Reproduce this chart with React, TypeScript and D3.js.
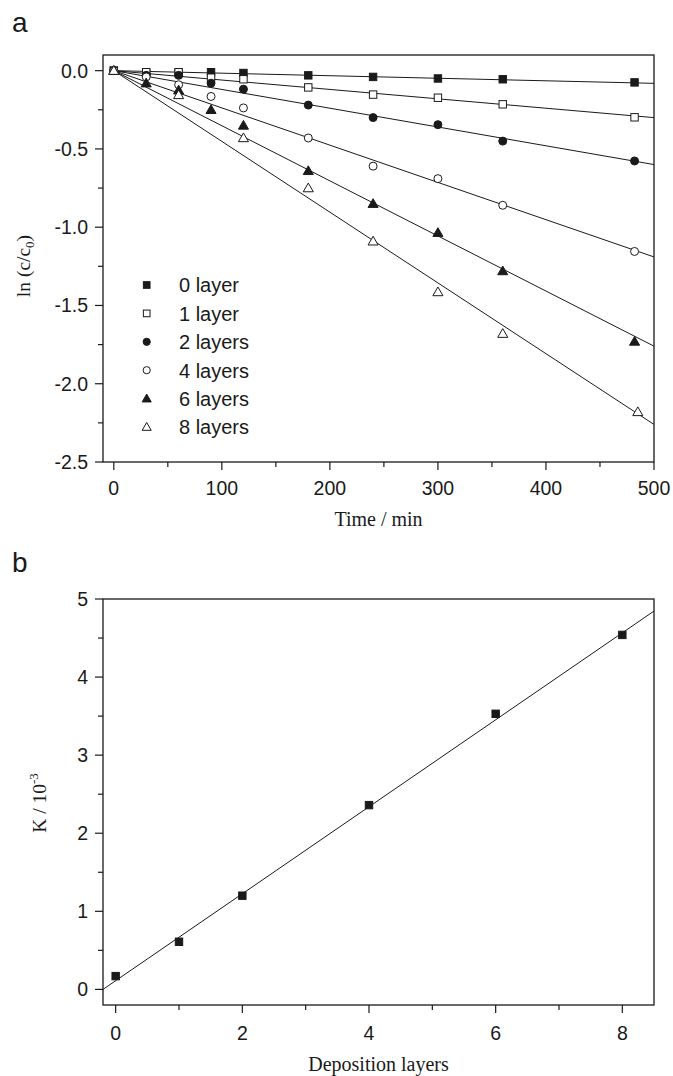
import React from 'react';
import * as d3 from 'd3';

// ---------- data: panel a ----------
const times = [0, 30, 60, 90, 120, 180, 240, 300, 360, 482];
const layer0 = [0, -0.015, -0.015, -0.01, -0.015, -0.03, -0.04, -0.05, -0.055, -0.075];
const layer1 = [0, -0.01, -0.01, -0.045, -0.055, -0.107, -0.153, -0.173, -0.215, -0.298];
const layer2 = [0, -0.03, -0.03, -0.08, -0.118, -0.22, -0.30, -0.345, -0.45, -0.577];
const layer4 = [0, -0.04, -0.09, -0.165, -0.238, -0.43, -0.61, -0.69, -0.86, -1.155];
const layer6 = [0, -0.08, -0.125, -0.25, -0.35, -0.64, -0.85, -1.035, -1.28, -1.73];
const layer8 = [0, null, -0.155, null, -0.43, -0.75, -1.09, -1.414, -1.68, -2.18];
const seriesNames = ['0 layer', '1 layer', '2 layers', '4 layers', '6 layers', '8 layers'];
const seriesMarkers = ['sqF', 'sqO', 'ciF', 'ciO', 'trF', 'trO'];
const fitAt500 = [-0.081, -0.30, -0.60, -1.19, -1.76, -2.26];
const xTicksA = [0, 100, 200, 300, 400, 500];
const yTicksA = [0, -0.5, -1.0, -1.5, -2.0, -2.5];

// ---------- data: panel b ----------
const depLayers = [0, 1, 2, 4, 6, 8];
const kValues = [0.17, 0.61, 1.2, 2.36, 3.53, 4.54];
const kFitIntercept = 0.111;
const kFitSlope = 0.557;
const xTicksB = [0, 2, 4, 6, 8];
const yTicksB = [0, 1, 2, 3, 4, 5];

const allSeries = [layer0, layer1, layer2, layer4, layer6, layer8];

const SANS = '"Liberation Sans", Arial, sans-serif';
const SERIF = '"Liberation Serif", "Times New Roman", serif';
const INK = '#1a1a1a';

function Marker({ type, x, y, s = 1 }: { type: string; x: number; y: number; s?: number }) {
  const filled = type.endsWith('F');
  const fill = filled ? INK : '#fff';
  const common = { fill, stroke: INK, strokeWidth: 1 };
  if (type.startsWith('sq')) {
    const h = 3.7 * s;
    return <rect x={x - h} y={y - h} width={2 * h} height={2 * h} {...common} />;
  }
  if (type.startsWith('ci')) {
    return <circle cx={x} cy={y} r={4 * s} {...common} />;
  }
  const path = d3.symbol(d3.symbolTriangle, 44 * s * s)();
  return <path d={path || ''} transform={`translate(${x},${y + 0.8 * s})`} {...common} />;
}

export default function App() {
  // panel a geometry
  const aL = 103, aR = 654, aT = 55, aB = 462;
  const xA = d3.scaleLinear().domain([-10, 500]).range([aL, aR]);
  const yA = d3.scaleLinear().domain([-2.5, 0.1]).range([aB, aT]);
  // panel b geometry
  const bL = 103, bR = 654, bT = 599, bB = 1005;
  const xB = d3.scaleLinear().domain([-0.2, 8.5]).range([bL, bR]);
  const yB = d3.scaleLinear().domain([-0.2, 5]).range([bB, bT]);

  const xMinorA = d3.range(50, 500, 100);
  const yMinorA = d3.range(-0.25, -2.5, -0.5);
  const xMinorB = [1, 3, 5, 7];
  const yMinorB = d3.range(0.5, 5, 1);

  const line = d3.line<[number, number]>();

  return (
    <svg width={673} height={1076} style={{ position: 'absolute', left: 0, top: 0, background: '#fff' }}>
      <rect x={0} y={0} width={673} height={1076} fill="#fff" />
      {/* ===== Panel a ===== */}
      <text x={12} y={32} fontFamily={SANS} fontSize={28} fill={INK}>a</text>
      <rect x={aL} y={aT} width={aR - aL} height={aB - aT} fill="none" stroke={INK} strokeWidth={1.3} />
      {xTicksA.map(t => (
        <g key={'xa' + t}>
          <line x1={xA(t)} x2={xA(t)} y1={aB} y2={aB + 8} stroke={INK} strokeWidth={1.2} />
          <text x={xA(t)} y={aB + 33} textAnchor="middle" fontFamily={SANS} fontSize={19.5} fill={INK}>{t}</text>
        </g>
      ))}
      {xMinorA.map(t => (
        <line key={'xam' + t} x1={xA(t)} x2={xA(t)} y1={aB} y2={aB + 5} stroke={INK} strokeWidth={1.2} />
      ))}
      {yTicksA.map(v => (
        <g key={'ya' + v}>
          <line x1={aL - 8} x2={aL} y1={yA(v)} y2={yA(v)} stroke={INK} strokeWidth={1.2} />
          <text x={aL - 15} y={yA(v) + 7} textAnchor="end" fontFamily={SANS} fontSize={19.5} fill={INK}>{v.toFixed(1)}</text>
        </g>
      ))}
      {yMinorA.map(v => (
        <line key={'yam' + v} x1={aL - 5} x2={aL} y1={yA(v)} y2={yA(v)} stroke={INK} strokeWidth={1.2} />
      ))}
      {/* fit lines */}
      {fitAt500.map((e, i) => (
        <path key={'fa' + i} d={line([[xA(0), yA(0)], [xA(500), yA(e)]]) || ''} stroke={INK} strokeWidth={1} fill="none" />
      ))}
      {/* data points */}
      {allSeries.map((vals, i) =>
        vals.map((v, j) =>
          v === null ? null : (
            <Marker key={'p' + i + '-' + j} type={seriesMarkers[i]} x={xA(i === 5 && j === 9 ? 485 : times[j])} y={yA(v)} />
          )
        )
      )}
      {/* legend */}
      {seriesNames.map((n, i) => {
        const ly = 285 + i * 28.4;
        return (
          <g key={'lg' + i}>
            <Marker type={seriesMarkers[i]} x={146.7} y={ly} s={0.9} />
            <text x={179} y={ly + 7.3} fontFamily={SANS} fontSize={20} fill={INK}>{n}</text>
          </g>
        );
      })}
      <text transform={`translate(30,${266}) rotate(-90)`} textAnchor="middle" fontFamily={SERIF} fontSize={19.5} fill={INK}>
        ln (c/c<tspan fontSize={13} dy={4}>0</tspan><tspan dy={-4}>)</tspan>
      </text>
      <text x={(aL + aR) / 2} y={526} textAnchor="middle" fontFamily={SERIF} fontSize={20} fill={INK}>Time / min</text>

      {/* ===== Panel b ===== */}
      <text x={12} y={572} fontFamily={SANS} fontSize={28} fill={INK}>b</text>
      <rect x={bL} y={bT} width={bR - bL} height={bB - bT} fill="none" stroke={INK} strokeWidth={1.3} />
      {xTicksB.map(t => (
        <g key={'xb' + t}>
          <line x1={xB(t)} x2={xB(t)} y1={bB} y2={bB + 8} stroke={INK} strokeWidth={1.2} />
          <text x={xB(t)} y={bB + 35} textAnchor="middle" fontFamily={SANS} fontSize={19.5} fill={INK}>{t}</text>
        </g>
      ))}
      {xMinorB.map(t => (
        <line key={'xbm' + t} x1={xB(t)} x2={xB(t)} y1={bB} y2={bB + 5} stroke={INK} strokeWidth={1.2} />
      ))}
      {yTicksB.map(v => (
        <g key={'yb' + v}>
          <line x1={bL - 8} x2={bL} y1={yB(v)} y2={yB(v)} stroke={INK} strokeWidth={1.2} />
          <text x={bL - 15} y={yB(v) + 7} textAnchor="end" fontFamily={SANS} fontSize={19.5} fill={INK}>{v}</text>
        </g>
      ))}
      {yMinorB.map(v => (
        <line key={'ybm' + v} x1={bL - 5} x2={bL} y1={yB(v)} y2={yB(v)} stroke={INK} strokeWidth={1.2} />
      ))}
      <path
        d={line([[xB(-0.2), yB(kFitIntercept + kFitSlope * -0.2)], [xB(8.5), yB(kFitIntercept + kFitSlope * 8.5)]]) || ''}
        stroke={INK} strokeWidth={1} fill="none"
      />
      {depLayers.map((l, i) => (
        <Marker key={'kb' + i} type="sqF" x={xB(l)} y={yB(kValues[i])} />
      ))}
      <text transform={`translate(46,${803}) rotate(-90)`} textAnchor="middle" fontFamily={SERIF} fontSize={19.5} fill={INK}>
        K / 10<tspan fontSize={13} dy={-8}>-3</tspan>
      </text>
      <text x={(bL + bR) / 2} y={1071} textAnchor="middle" fontFamily={SERIF} fontSize={20} fill={INK}>Deposition layers</text>
    </svg>
  );
}
